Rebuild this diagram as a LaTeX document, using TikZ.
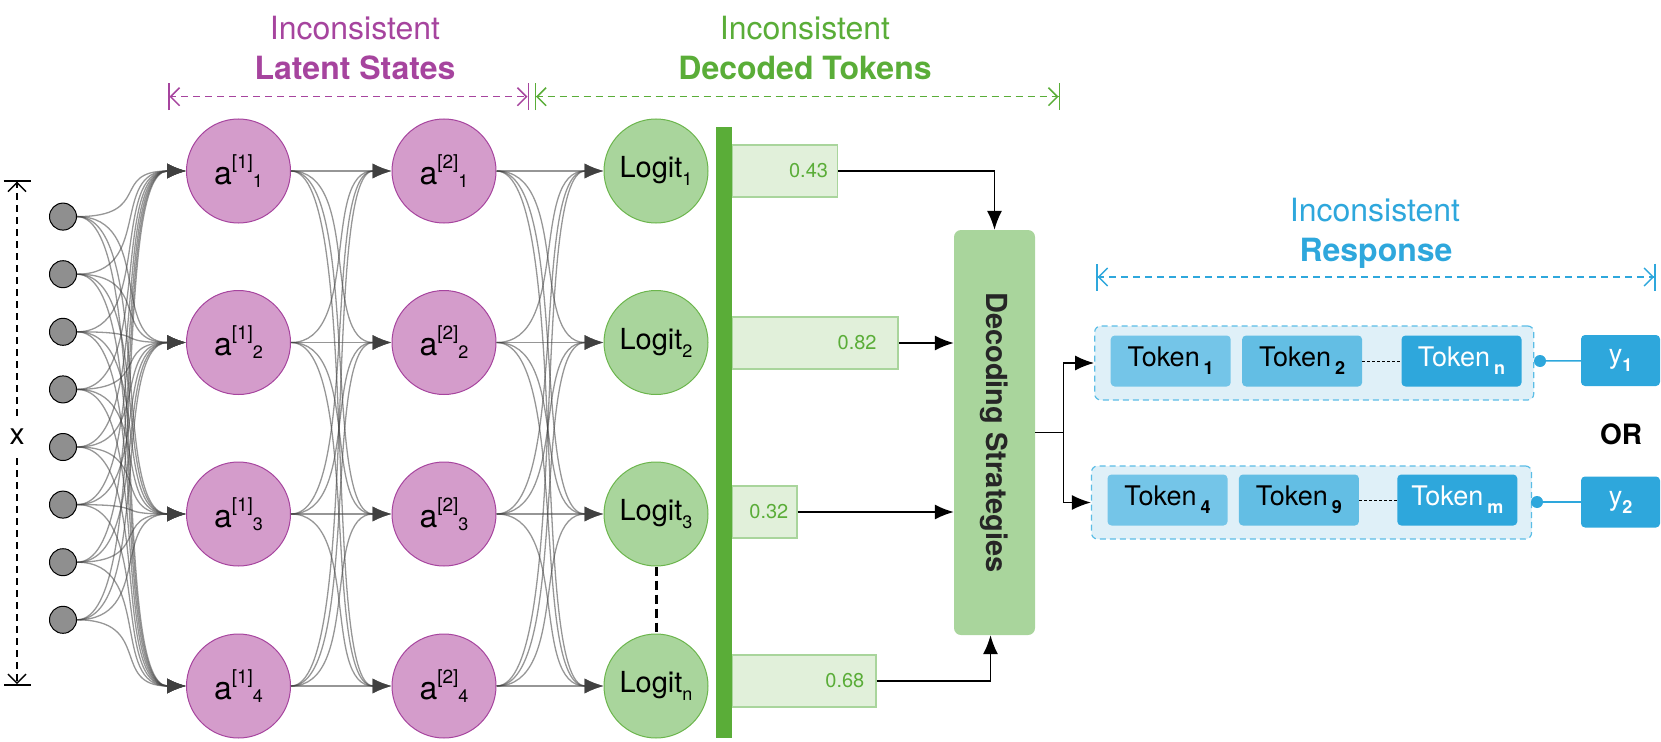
\documentclass[tikz,border=0pt]{standalone}
\usepackage{fontspec}
\setmainfont{TeX Gyre Heros}
\usetikzlibrary{positioning}
\usetikzlibrary{arrows.meta}
\usetikzlibrary{calc}

\definecolor{purp}{HTML}{A6449E}
\definecolor{purpfill}{HTML}{D49CCB}
\definecolor{grn}{HTML}{5AAD38}
\definecolor{grnfill}{HTML}{A9D59C}
\definecolor{grnpale}{HTML}{E1F0DA}
\definecolor{blu}{HTML}{2EA7DC}
\definecolor{tokA}{HTML}{74C5E8}
\definecolor{tokB}{HTML}{63BEE4}
\definecolor{blupale}{HTML}{DFF0F8}
\definecolor{bluline}{HTML}{5BBDE6}

\newcommand{\fsz}[1]{\fontsize{#1}{#1}\selectfont}
\newcommand{\hlab}[2]{a\raisebox{16pt}{\fsz{19}[#1]}\raisebox{-3pt}{\fsz{18}#2}}
\newcommand{\lsub}[1]{\raisebox{-8pt}{\fsz{18}#1}}
\newcommand{\bsub}[1]{\raisebox{-8pt}{\fsz{18}\bfseries #1}}

\tikzset{>={Latex[length=19pt,width=15pt]}}
\tikzset{inp/.style={draw,circle,minimum size=27pt,inner sep=0pt,fill=black!44,line width=1pt}}
\tikzset{hid/.style={draw=purp,circle,minimum size=104pt,inner sep=0pt,fill=purpfill,line width=1pt,font=\fsz{32}}}
\tikzset{lgt/.style={draw=grn!90,circle,minimum size=104pt,inner sep=0pt,fill=grnfill,line width=1pt,font=\fsz{29}}}
\tikzset{wire/.style={->,draw=black!75,draw opacity=0.55,line width=1.3pt}}
\tikzset{prob/.style={draw=grnfill,fill=grnpale,line width=1.5pt,minimum height=52pt,inner sep=0pt,anchor=west}}
\tikzset{num/.style={text=grn,font=\fsz{20},inner sep=0pt}}
\tikzset{link/.style={->,line width=1.5pt}}
\tikzset{tok/.style={rounded corners=4pt,minimum width=120pt,minimum height=51pt,inner sep=0pt,font=\fsz{27}}}
\tikzset{grp/.style={draw=bluline,fill=blupale,dash pattern=on 6pt off 4pt,rounded corners=6pt,line width=1.2pt}}
\tikzset{dimline/.style={dash pattern=on 7pt off 5pt,line width=1.5pt}}
\tikzset{bothends/.style={arrows={Bar[width=27pt]Straight Barb[length=9pt,width=18pt]-Straight Barb[length=9pt,width=18pt]Bar[width=27pt]}}}

\begin{document}
\begin{tikzpicture}[x=1pt,y=-1pt]
    \useasboundingbox (0,0) rectangle (1661,741);

    % input layer
    \foreach \i in {1,...,8}
        \node[inp] (x\i) at (63, 159+57.6*\i) {};

    \node[hid] (h1) at (238.5, 171) {\hlab{1}{1}};
    \node[hid] (h2) at (238.5, 342.5) {\hlab{1}{2}};
    \node[hid] (h3) at (238.5, 514) {\hlab{1}{3}};
    \node[hid] (h4) at (238.5, 686) {\hlab{1}{4}};

    \node[hid] (k1) at (444, 171) {\hlab{2}{1}};
    \node[hid] (k2) at (444, 342.5) {\hlab{2}{2}};
    \node[hid] (k3) at (444, 514) {\hlab{2}{3}};
    \node[hid] (k4) at (444, 686) {\hlab{2}{4}};

    \node[lgt] (l1) at (656, 171) {Logit\lsub{1}};
    \node[lgt] (l2) at (656, 342.5) {Logit\lsub{2}};
    \node[lgt] (l3) at (656, 514) {Logit\lsub{3}};
    \node[lgt] (l4) at (656, 686) {Logit\lsub{n}};

    \foreach \i in {1,...,8}
        \foreach \j in {1,...,4}
            \draw[wire] (x\i.east) .. controls +(76,0) and +(-76,0) .. (h\j.west);
    \foreach \i in {1,...,4}
        \foreach \j in {1,...,4}
        {
            \draw[wire] (h\i.east) .. controls +(70,0) and +(-70,0) .. (k\j.west);
            \draw[wire] (k\i.east) .. controls +(74,0) and +(-74,0) .. (l\j.west);
        }

    \draw[line width=3pt, dash pattern=on 9pt off 5pt] (l3.south) -- (l4.north);

    % probabilities
    \node[fill=grn, minimum width=16pt, minimum height=611pt, inner sep=0pt] (bar) at (723.7, 432.4) {};
    \node[prob, minimum width=105pt] (p1) at (731.7, 171) {};
    \node[prob, minimum width=165.6pt] (p2) at (731.7, 343) {};
    \node[prob, minimum width=64.3pt] (p3) at (731.7, 512) {};
    \node[prob, minimum width=143.3pt] (p4) at (731.7, 681) {};
    \node[num, left=10pt of p1.east] (n1) {0.43};
    \node[num, left=22pt of p2.east] (n2) {0.82};
    \node[num, left=9pt of p3.east] (n3) {0.32};
    \node[num, left=12pt of p4.east] (n4) {0.68};

    \node[fill=grnfill, rounded corners=7pt, minimum width=81pt, minimum height=405pt, inner sep=0pt] (ds) at (994.5, 432.5) {};
    \node[rotate=-90, font=\fsz{29}\bfseries, text=black!85] (dstxt) at (ds.center) {Decoding Strategies};

    \draw[link] (p1.east) -| (ds.north);
    \draw[link] (p2.east) -- (p2.east -| ds.west);
    \draw[link] (p3.east) -- (p3.east -| ds.west);
    \draw[link] (p4.east) -| ([xshift=-4pt]ds.south);

    % responses
    \node[grp, minimum width=439pt, minimum height=74pt] (g1) at (1314.2, 363) {};
    \node[tok, fill=tokA] (t1) at (1170.7, 361) {Token\hspace{4pt}\bsub{1}};
    \node[tok, fill=tokB, right=11pt of t1] (t2) {Token\hspace{4pt}\bsub{2}};
    \node[tok, fill=blu, text=white, right=39pt of t2] (tn) {Token\hspace{4pt}\bsub{n}};
    \draw[dash pattern=on 3pt off 2pt, line width=1pt] (t2.east) -- (tn.west);

    \node[grp, minimum width=440pt, minimum height=73pt] (g2) at (1311.5, 502.5) {};
    \node[tok, fill=tokA] (t4) at (1167.5, 500) {Token\hspace{4pt}\bsub{4}};
    \node[tok, fill=tokB, right=11pt of t4] (t9) {Token\hspace{4pt}\bsub{9}};
    \node[tok, fill=blu, text=white, right=38pt of t9] (tm) {Token\hspace{4pt}\bsub{m}};
    \draw[dash pattern=on 3pt off 2pt, line width=1pt] (t9.east) -- (tm.west);

    \node[tok, fill=blu, text=white, minimum width=79pt] (y1) at (1620.5, 360.5) {y\bsub{1}};
    \node[tok, fill=blu, text=white, minimum width=79pt] (y2) at (1620.5, 502) {y\bsub{2}};
    \node[circle, fill=blu, minimum size=12pt, inner sep=0pt] (d1) at (1540, 361) {};
    \node[circle, fill=blu, minimum size=12pt, inner sep=0pt] (d2) at (1537, 502) {};
    \draw[blu, line width=1.5pt] (d1) -- (y1);
    \draw[blu, line width=1.5pt] (d2) -- (y2);
    \node[font=\fsz{28}\bfseries] (or) at (1621, 434) {OR};

    \draw[link] (ds.east) -- ++(28.5,0) coordinate (split) |- (g1.west);
    \draw[link] (split) |- (g2.west);

    % spans on top
    \node[text=purp, font=\fsz{32}, anchor=base] (inc1) at (355, 40) {Inconsistent};
    \node[text=purp, font=\fsz{32}\bfseries, anchor=base] (lat) at (355, 80) {Latent States};
    \node[text=grn, font=\fsz{32}, anchor=base] (inc2) at (805, 40) {Inconsistent};
    \node[text=grn, font=\fsz{32}\bfseries, anchor=base] (dec) at (805, 80) {Decoded Tokens};
    \node[text=blu, font=\fsz{32}, anchor=base] (inc3) at (1375, 221.7) {Inconsistent};
    \node[text=blu, font=\fsz{32}\bfseries, anchor=base] (resp) at (1376, 261.7) {Response};

    \coordinate (lsA) at (168, 96.7);
    \coordinate (lsB) at (529, 96.7);
    \coordinate (dtA) at (534.5, 96.7);
    \coordinate (dtB) at (1060, 96.7);
    \coordinate (rsA) at (1096, 277);
    \coordinate (rsB) at (1655.6, 277);
    \draw[dimline, bothends, purp] (lsA) -- (lsB);
    \draw[dimline, bothends, grn] (dtA) -- (dtB);
    \draw[dimline, bothends, blu] (rsA) -- (rsB);

    % input size
    \node[font=\fsz{30}, minimum height=42pt, inner sep=0pt] (xlab) at (17, 437) {x};
    \coordinate (xtop) at (17, 180);
    \coordinate (xbot) at (17, 685.7);
    \draw[dimline, arrows={Bar[width=27pt]Straight Barb[length=9pt,width=18pt]-}] (xtop) -- (xlab.north);
    \draw[dimline, arrows={-Straight Barb[length=9pt,width=18pt]Bar[width=27pt]}] (xlab.south) -- (xbot);
\end{tikzpicture}
\end{document}
